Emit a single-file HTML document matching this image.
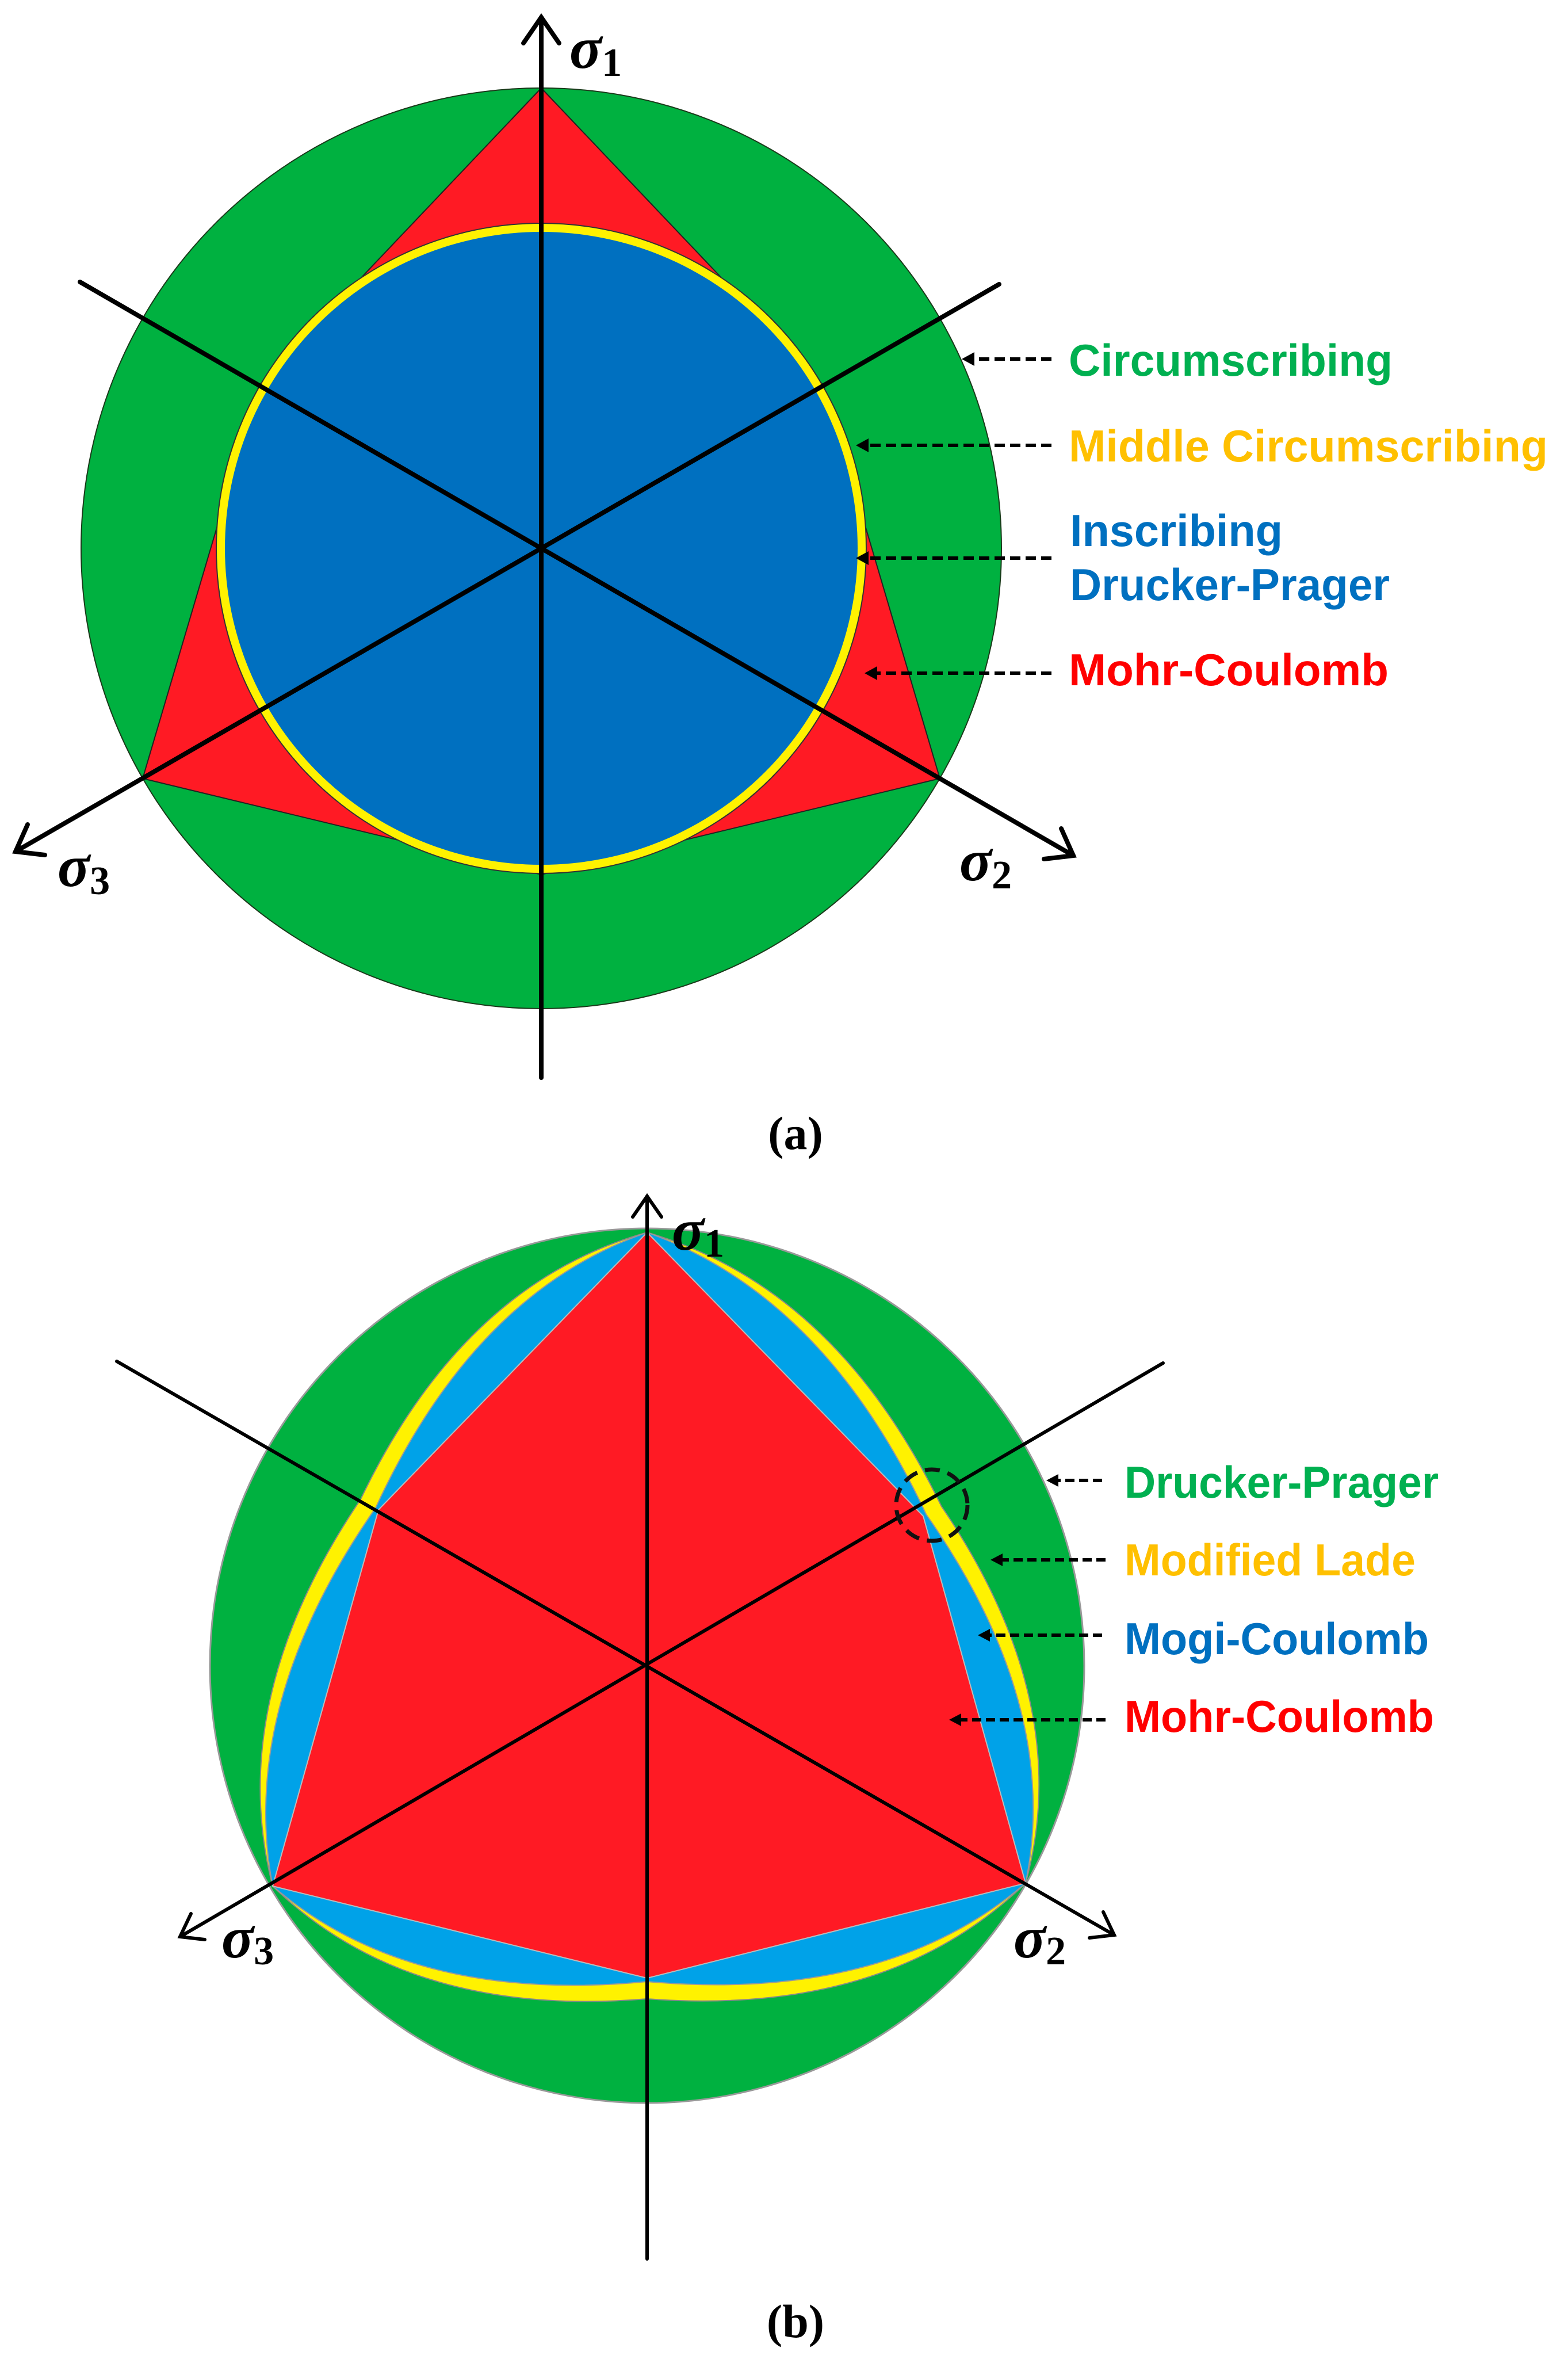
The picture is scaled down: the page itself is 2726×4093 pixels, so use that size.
<!DOCTYPE html>
<html><head><meta charset="utf-8"><style>
html,body{margin:0;padding:0;background:#fff;width:2726px;height:4093px;overflow:hidden}
svg{display:block}
.lg{font-family:"Liberation Sans Narrow","Liberation Sans",sans-serif;font-weight:bold;font-size:78px}
.sg{font-family:"Liberation Serif",serif;font-weight:bold;font-style:italic;font-size:104px}
.sb{font-family:"Liberation Serif",serif;font-weight:bold;font-style:normal;font-size:70px}
.cap{font-family:"Liberation Serif",serif;font-weight:bold;font-size:82px}
</style></head><body>
<svg id="s" width="2726" height="4093" viewBox="0 0 2726 4093" xmlns="http://www.w3.org/2000/svg">
<!-- (a) -->
<circle cx="941" cy="953" r="800" fill="#00B140" stroke="#1a3a1a" stroke-width="2"/>
<polygon points="941,153 1432,670 1634,1353 941,1520 248,1353 450,670" fill="#FF1A24" stroke="#222" stroke-width="2"/>
<circle cx="941" cy="953" r="565" fill="#FFF200" stroke="#333" stroke-width="2"/>
<circle cx="941" cy="953" r="550" fill="#0070C0"/>
<g stroke="#000" stroke-width="8" fill="none" stroke-linecap="round">
<line x1="941" y1="30" x2="941" y2="1873"/>
<line x1="139" y1="490" x2="1866" y2="1487"/>
<line x1="1737" y1="494" x2="27" y2="1480"/>
<polyline points="910,75 941,30 972,75"/>
<polyline points="1815,1493 1866,1487 1845,1440"/>
<polyline points="78,1486 27,1480 48,1433"/>
</g>
<text class="sg" x="990" y="118">σ<tspan class="sb" dy="14">1</tspan></text>
<text class="sg" x="1668" y="1530">σ<tspan class="sb" dy="14">2</tspan></text>
<text class="sg" x="100" y="1540">σ<tspan class="sb" dy="14">3</tspan></text>
<g stroke="#000" stroke-width="6" stroke-dasharray="18,9">
<line x1="1828" y1="624" x2="1690" y2="624"/>
<line x1="1828" y1="774" x2="1505" y2="774"/>
<line x1="1828" y1="970" x2="1505" y2="970"/>
<line x1="1828" y1="1170" x2="1520" y2="1170"/>
</g>
<g fill="#000">
<polygon points="1672,624 1694,612 1694,636"/>
<polygon points="1488,774 1510,762 1510,786"/>
<polygon points="1488,970 1510,958 1510,982"/>
<polygon points="1503,1170 1525,1158 1525,1182"/>
</g>
<text class="lg" x="1858" y="653" fill="#00B050" textLength="563" lengthAdjust="spacingAndGlyphs">Circumscribing</text>
<text class="lg" x="1858" y="802" fill="#FFC000" textLength="833" lengthAdjust="spacingAndGlyphs">Middle Circumscribing</text>
<text class="lg" x="1860" y="949" fill="#0070C0" textLength="370" lengthAdjust="spacingAndGlyphs">Inscribing</text>
<text class="lg" x="1860" y="1043" fill="#0070C0" textLength="556" lengthAdjust="spacingAndGlyphs">Drucker-Prager</text>
<text class="lg" x="1858" y="1191" fill="#FF0000" textLength="556" lengthAdjust="spacingAndGlyphs">Mohr-Coulomb</text>
<text class="cap" x="1383" y="1997" text-anchor="middle">(a)</text>
<!-- (b) -->
<circle cx="1125" cy="2895" r="760" fill="#00B140" stroke="#999" stroke-width="3"/>
<path id="yel" fill="#FFF200" stroke="#888" stroke-width="2"/>
<path id="blu" fill="#00A2E8" stroke="#999" stroke-width="2"/>
<polygon points="1125,2142 1605,2635 1783,3273 1125,3438 474,3278 658,2624" fill="#FF1A24" stroke="#bbb" stroke-width="2"/>
<g stroke="#000" stroke-width="6" fill="none" stroke-linecap="round">
<line x1="1125" y1="2079" x2="1125" y2="3926"/>
<line x1="203" y1="2366" x2="1937" y2="3363"/>
<line x1="2022" y1="2369" x2="313" y2="3366"/>
<polyline points="1100,2115 1125,2079 1150,2115"/>
<polyline points="1894,3368 1937,3363 1918,3323"/>
<polyline points="356,3371 313,3366 332,3326"/>
</g>
<circle cx="1620" cy="2616" r="62" fill="none" stroke="#111" stroke-width="7" stroke-dasharray="26,14"/>
<text class="sg" x="1168" y="2172" font-size="92">σ<tspan class="sb" dy="12" font-size="62">1</tspan></text>
<text class="sg" x="1762" y="3402" font-size="92">σ<tspan class="sb" dy="12" font-size="62">2</tspan></text>
<text class="sg" x="385" y="3402" font-size="92">σ<tspan class="sb" dy="12" font-size="62">3</tspan></text>
<g stroke="#000" stroke-width="6" stroke-dasharray="16,8">
<line x1="1916" y1="2573" x2="1835" y2="2573"/>
<line x1="1922" y1="2711" x2="1740" y2="2711"/>
<line x1="1916" y1="2842" x2="1718" y2="2842"/>
<line x1="1922" y1="2989" x2="1668" y2="2989"/>
</g>
<g fill="#000">
<polygon points="1819,2573 1840,2562 1840,2584"/>
<polygon points="1722,2711 1743,2700 1743,2722"/>
<polygon points="1700,2842 1721,2831 1721,2853"/>
<polygon points="1650,2989 1671,2978 1671,3000"/>
</g>
<text class="lg" x="1955" y="2603" fill="#00B050" textLength="546" lengthAdjust="spacingAndGlyphs">Drucker-Prager</text>
<text class="lg" x="1955" y="2738" fill="#FFC000" textLength="506" lengthAdjust="spacingAndGlyphs">Modified Lade</text>
<text class="lg" x="1955" y="2875" fill="#0070C0" textLength="529" lengthAdjust="spacingAndGlyphs">Mogi-Coulomb</text>
<text class="lg" x="1955" y="3010" fill="#FF0000" textLength="538" lengthAdjust="spacingAndGlyphs">Mohr-Coulomb</text>
<text class="cap" x="1383" y="4062" text-anchor="middle">(b)</text>
</svg>
<script>
(function(){
var C=[1125,2895];
var outer=[[1125,2142],[474,3278],[1783,3273]];
var inner=[[658,2624],[1125,3438],[1605,2635]];
function build(push,ctrl){
  var pts=[outer[0],inner[0],outer[1],inner[1],outer[2],inner[2]];
  pts=pts.map(function(p,i){
    if(i%2==1){var dx=p[0]-C[0],dy=p[1]-C[1],L=Math.hypot(dx,dy);return [p[0]+dx/L*push,p[1]+dy/L*push];}
    return p;});
  var d="M"+pts[0][0]+","+pts[0][1];
  for(var i=0;i<6;i++){
    var a=pts[i],b=pts[(i+1)%6];
    var mx=(a[0]+b[0])/2,my=(a[1]+b[1])/2;
    var dx=mx-C[0],dy=my-C[1],L=Math.hypot(dx,dy);
    var cx=mx+dx/L*ctrl,cy=my+dy/L*ctrl;
    d+=" Q"+cx.toFixed(1)+","+cy.toFixed(1)+" "+b[0].toFixed(1)+","+b[1].toFixed(1);
  }
  return d+"Z";
}
document.getElementById("blu").setAttribute("d",build(6,150));
document.getElementById("yel").setAttribute("d",build(36,160));
})();
</script>
</body></html>
